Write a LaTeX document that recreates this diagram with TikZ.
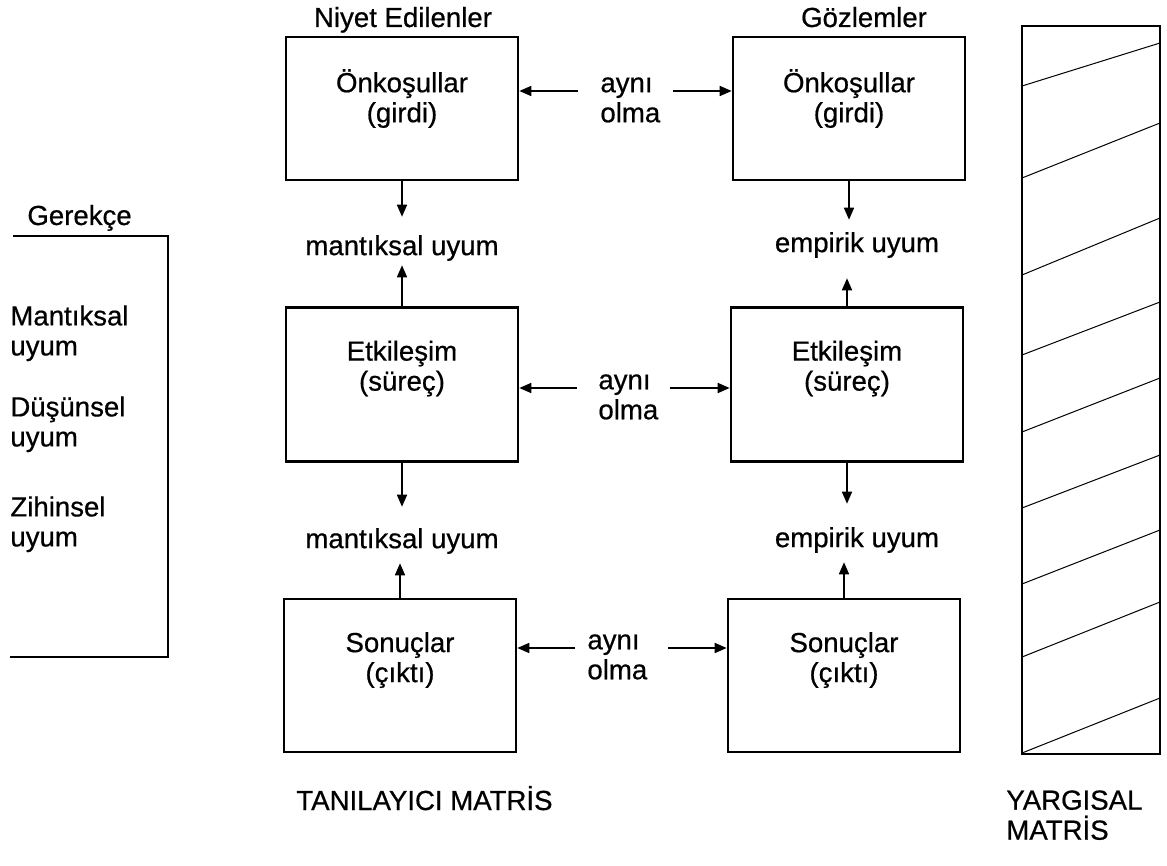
\documentclass[tikz,border=0pt]{standalone}
\usepackage{fontspec}
\setmainfont{Liberation Sans}[FakeBold=0.6]
\usetikzlibrary{arrows.meta,positioning,calc}
\newcommand{\diagfont}{\fontsize{13.8}{15}\selectfont}

\begin{document}
\begin{tikzpicture}[
    x=0.5pt, y=-0.5pt,
    box/.style={rectangle, draw=black, line width=1.3pt, minimum width=116pt, inner sep=0pt},
    boxtxt/.style={anchor=north, align=center, inner sep=0pt, font=\diagfont},
    txt/.style={inner sep=0pt, font=\diagfont},
    arr/.style={-{Triangle[length=6pt,width=5pt]}, line width=0.8pt},
    bracket/.style={line width=1.2pt},
    colbox/.style={line width=1.1pt},
    hatch/.style={line width=0.5pt}
]
\useasboundingbox (0,0) rectangle (1167,866);

\node[txt, anchor=base] (intd) at (403,27) {Niyet Edilenler};
\node[txt, anchor=base] (obsv) at (864,27) {Gözlemler};

\node[box, minimum height=71.5pt] (pre1) at (402,108.5) {};
\node[box, minimum height=71.5pt] (pre2) at (849,108.5) {};
\node[box, minimum height=77pt]   (int1) at (402,384.5) {};
\node[box, minimum height=77pt]   (int2) at (847,384.5) {};
\node[box, minimum height=76.5pt] (out1) at (400,675.5) {};
\node[box, minimum height=76.5pt] (out2) at (844,675.5) {};

\node[boxtxt, below=16.5pt of pre1.north] (pre1t) {Önkoşullar\\(girdi)};
\node[boxtxt, below=16.5pt of pre2.north] (pre2t) {Önkoşullar\\(girdi)};
\node[boxtxt, below=17pt of int1.north] (int1t) {Etkileşim\\(süreç)};
\node[boxtxt, below=17pt of int2.north] (int2t) {Etkileşim\\(süreç)};
\node[boxtxt, below=17pt of out1.north] (out1t) {Sonuçlar\\(çıktı)};
\node[boxtxt, below=17pt of out2.north] (out2t) {Sonuçlar\\(çıktı)};

\node[txt, anchor=north west, align=left] (same1) at (600,77)  {aynı\\olma};
\node[txt, anchor=north west, align=left] (same2) at (598,374) {aynı\\olma};
\node[txt, anchor=north west, align=left] (same3) at (587,634) {aynı\\olma};

\coordinate (s1l) at ([xshift=-11pt,yshift=-7pt]same1.north west);
\coordinate (s1r) at ([xshift=36.5pt,yshift=-7pt]same1.north west);
\coordinate (s2l) at ([xshift=-10.5pt,yshift=-7pt]same2.north west);
\coordinate (s2r) at ([xshift=36pt,yshift=-7pt]same2.north west);
\coordinate (s3l) at ([xshift=-6pt,yshift=-7pt]same3.north west);
\coordinate (s3r) at ([xshift=40.5pt,yshift=-7pt]same3.north west);

\draw[arr] (s1l) -- (s1l -| pre1.east);
\draw[arr] (s1r) -- (s1r -| pre2.west);
\draw[arr] (s2l) -- (s2l -| int1.east);
\draw[arr] (s2r) -- (s2r -| int2.west);
\draw[arr] (s3l) -- (s3l -| out1.east);
\draw[arr] (s3r) -- (s3r -| out2.west);

\node[txt] (lc1)  at (402,248) {mantıksal uyum};
\node[txt] (emp1) at (857,245) {empirik uyum};
\node[txt] (lc2)  at (402,541) {mantıksal uyum};
\node[txt] (emp2) at (857,540) {empirik uyum};

\draw[arr] (pre1.south) -- ($(pre1.south |- lc1.north)+(0,9pt)$);
\draw[arr] (int1.north) -- ($(int1.north |- lc1.south)+(0,-2pt)$);
\draw[arr] (pre2.south) -- ($(pre2.south |- emp1.north)+(0,6pt)$);
\draw[arr] (int2.north) -- ($(int2.north |- emp1.south)+(0,-10pt)$);
\draw[arr] (int1.south) -- ($(int1.south |- lc2.north)+(0,10.5pt)$);
\draw[arr] (out1.north) -- ($(out1.north |- lc2.south)+(0,-4.5pt)$);
\draw[arr] (int2.south) -- ($(int2.south |- emp2.north)+(0,11.5pt)$);
\draw[arr] (out2.north) -- ($(out2.north |- emp2.south)+(0,-4.5pt)$);

\node[txt, anchor=base west] (reason) at (27,225) {Gerekçe};
\draw[bracket] (13,236) -- (168,236) -- (168,657) -- (10,657);
\node[txt, anchor=north west, align=left] (rs1) at (10,305) {Mantıksal\\uyum};
\node[txt, anchor=north west, align=left] (rs2) at (10,396) {Düşünsel\\uyum};
\node[txt, anchor=north west, align=left] (rs3) at (10,496) {Zihinsel\\uyum};

\draw[colbox] (1022,26) rectangle (1160,754);
\foreach \a/\b in {86/43,178/123,275/218,355/302,432/378,508/455,584/530,657/602,753/698}
  \draw[hatch] (1022,\a) -- (1160,\b);

\node[txt, anchor=base west] (diag) at (296,810) {TANILAYICI MATRİS};
\node[txt, anchor=north west, align=left] (judg) at (1006,790) {YARGISAL\\MATRİS};
\end{tikzpicture}
\end{document}
